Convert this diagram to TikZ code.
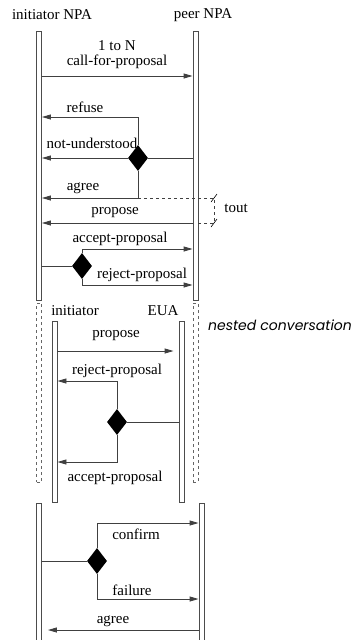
\documentclass[tikz,border=0pt]{standalone}
\usepackage{fontspec}
\setmainfont{Liberation Serif}
\newfontfamily\nestfont{Poppins}
\usetikzlibrary{arrows.meta,shapes.geometric}

\begin{document}
\begin{tikzpicture}[x=1pt, y=-1pt,
    bar/.style={draw=black!70, fill=white, line width=0.9pt,
                minimum width=5pt, inner sep=0pt},
    nestbar/.style={draw=black!60, dashed, line width=0.9pt,
                minimum width=5pt, minimum height=179pt, inner sep=0pt},
    msg/.style={-{Triangle[length=9pt,width=5pt]}, draw=black!75, line width=0.9pt},
    link/.style={draw=black!75, line width=0.9pt},
    choice/.style={diamond, fill=black, minimum width=20pt,
                   minimum height=26pt, inner sep=0pt},
    lbl/.style={font=\fontsize{15}{15}\selectfont, inner sep=1pt, align=center},
    tick/.style={draw=black, line width=0.6pt}
]
\useasboundingbox (0,0) rectangle (356,640);

% roles
\node[lbl] (hini)  at (52,15)  {initiator NPA};
\node[lbl] (hpeer) at (203,15) {peer NPA};
\node[lbl] (hini2) at (75,311) {initiator};
\node[lbl] (heua)  at (163,311) {EUA};

% lifelines
\node[bar, minimum height=269pt] (iniA)  at (39,165.5)  {};
\node[bar, minimum height=269pt] (peerA) at (195.5,165.5) {};
\node[nestbar] (iniN)  at (39,392.5)  {};
\node[nestbar] (peerN) at (195.5,392.5) {};
\node[bar, minimum height=181pt] (iniB) at (54.5,411.5) {};
\node[bar, minimum height=181pt] (euaB) at (181.5,411.5) {};
\node[bar, minimum height=142pt] (iniC)  at (39,574)    {};
\node[bar, minimum height=142pt] (peerC) at (201.5,574) {};

\node[font=\nestfont\itshape\fontsize{14}{14}\selectfont] (nest) at (280,325) {nested conversation};

% choices
\node[choice] (d1) at (138,158) {};
\node[choice] (d2) at (82,266)  {};
\node[choice] (d3) at (117,422) {};
\node[choice] (d4) at (97,561)  {};

\coordinate (tout1) at (214,198);
\coordinate (tout2) at (214,223);

% cfp round
\draw[msg] (iniA.east |- 0,76) -- (peerA.west |- 0,76);
\node[lbl] (lcfp) at (117,54.5) {1 to N\\call-for-proposal};

\draw[link] (peerA.west |- d1) -- (d1.east);
\draw[msg] (d1.north) |- (iniA.east |- 0,117);
\node[lbl] (lref) at (85,107) {refuse};
\draw[msg] (d1.west) -- (iniA.east |- d1);
\node[lbl] (lnu) at (92,143) {not-understood};
\draw[msg] (d1.south) |- (iniA.east |- tout1);
\node[lbl] (lagr) at (83,188) {agree};
\draw[msg] (peerA.west |- tout2) -- (iniA.east |- tout2);
\node[lbl] (lprop) at (115,213) {propose};

% timeout
\draw[link, dashed] (d1.south |- tout1) -- (tout1) -- (tout2) -- (peerA.east |- tout2);
\draw[tick] (tout1) ++(-3,4) -- ++(6,-8);
\draw[tick] (tout2) ++(-3,4) -- ++(6,-8);
\node[lbl] (ltout) at (236,208) {tout};

\draw[link] (iniA.east |- d2) -- (d2.west);
\draw[msg] (d2.north) |- (peerA.west |- 0,249);
\node[lbl] (lacc) at (120,239) {accept-proposal};
\draw[msg] (d2.south) |- (peerA.west |- 0,285);
\node[lbl] (lrej) at (142,275) {reject-proposal};

% nested
\draw[msg, shorten >=5pt] (iniB.east |- 0,351) -- (euaB.west |- 0,351);
\node[lbl] (lprop2) at (116,336) {propose};
\draw[link] (euaB.west |- d3) -- (d3.east);
\draw[msg] (d3.north) |- (iniB.east |- 0,381);
\node[lbl] (lrej2) at (117,371) {reject-proposal};
\draw[msg] (d3.south) |- (iniB.east |- 0,462);
\node[lbl] (lacc2) at (115,478) {accept-proposal};

% closing
\draw[link] (iniC.east |- d4) -- (d4.west);
\draw[msg] (d4.north) |- (peerC.west |- 0,523);
\node[lbl] (lconf) at (136,534) {confirm};
\draw[msg] (d4.south) |- (peerC.west |- 0,599);
\node[lbl] (lfail) at (132,590) {failure};
\draw[msg, shorten >=6pt] (peerC.west |- 0,630) -- (iniC.east |- 0,630);
\node[lbl] (lagr2) at (113,621) {agree};

\end{tikzpicture}
\end{document}
